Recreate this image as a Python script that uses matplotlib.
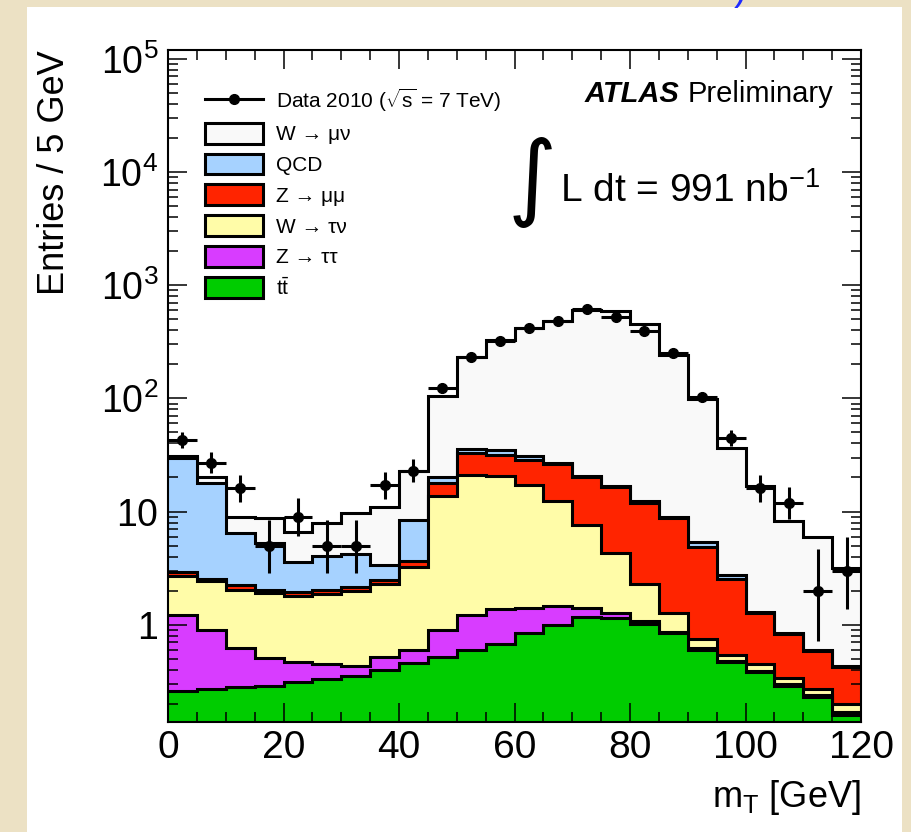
import numpy as np
import matplotlib
matplotlib.use('Agg')
import matplotlib.pyplot as plt
from matplotlib import font_manager
from matplotlib.lines import Line2D
from matplotlib.patches import Patch, Rectangle
from matplotlib.ticker import MultipleLocator, LogLocator, FuncFormatter, NullFormatter

# m_T binning, 5 GeV per bin
bin_edges = np.arange(0, 125, 5)

# observed events per bin
data_2010 = np.array([43, 27, 16, 5, 9, 5, 5, 17, 23, 123, 233, 322,
                      420, 483, 620, 525, 394, 250, 103, 45, 16, 12, 2, 3])

# MC / data-driven expectations per bin (stacked bottom -> top)
ttbar = [0.26, 0.27, 0.28, 0.29, 0.31, 0.33, 0.35, 0.40, 0.46, 0.52, 0.60, 0.68,
         0.84, 1.00, 1.18, 1.15, 1.02, 0.85, 0.60, 0.47, 0.38, 0.29, 0.23, 0.16]
z_tautau = [0.97, 0.63, 0.34, 0.22, 0.16, 0.12, 0.08, 0.12, 0.14, 0.38, 0.63, 0.70,
            0.56, 0.45, 0.22, 0.12, 0.05, 0.02, 0.02, 0.01, 0.01, 0.01, 0.01, 0.01]
w_taunu = [1.47, 1.52, 1.39, 1.40, 1.31, 1.42, 1.54, 1.77, 2.62, 12.9, 20.0, 19.4,
           15.9, 10.85, 6.27, 3.04, 1.23, 0.40, 0.13, 0.06, 0.06, 0.04, 0.03, 0.03]
z_mumu = [0.20, 0.13, 0.25, 0.13, 0.17, 0.17, 0.17, 0.21, 0.46, 4.1, 11.8, 11.1,
          11.5, 13.8, 12.6, 12.2, 9.7, 7.5, 4.15, 1.97, 0.81, 0.49, 0.32, 0.22]
qcd = [27.0, 15.4, 4.2, 3.2, 1.6, 2.0, 2.1, 0.85, 4.7, 2.5, 2.8, 3.1,
       2.2, 0.9, 0.3, 0.3, 0.3, 0.15, 0.5, 0.25, 0.03, 0.01, 0.01, 0.01]
w_munu = [1.1, 2.3, 2.5, 3.5, 3.1, 3.9, 5.45, 7.65, 14.6, 85.6, 196, 291,
          392, 456, 583, 576, 443, 231, 92.6, 33.9, 15.4, 7.4, 5.3, 2.75]

samples = [ttbar, z_tautau, w_taunu, z_mumu, qcd, w_munu]
labels = [r'$\mathregular{t\bar{t}}$', 'Z → ττ', 'W → τν', 'Z → μμ', 'QCD', 'W → μν']
colors = ['#00CC00', '#D83CFF', '#FFFCA8', '#FF2400', '#A6D2FF', '#F9F9F9']

# font setup
available = {f.name for f in font_manager.fontManager.ttflist}
narrow = 'Liberation Sans Narrow' if 'Liberation Sans Narrow' in available else 'Liberation Sans'
plt.rcParams['font.family'] = ['Liberation Sans', 'DejaVu Sans']
plt.rcParams['mathtext.fontset'] = 'custom'
plt.rcParams['mathtext.rm'] = 'Liberation Sans'
plt.rcParams['mathtext.it'] = 'Liberation Sans:italic'
plt.rcParams['mathtext.bf'] = 'Liberation Sans:bold'

fig = plt.figure(figsize=(9.11, 8.32), dpi=100, facecolor='#ECE1C4')
# white slide panel behind the plot
fig.patches.append(Rectangle((27 / 911, 0), 875 / 911, 825 / 832, transform=fig.transFigure,
                             facecolor='white', edgecolor='none', zorder=-10))
fig.text(0.813, 1.012, ')', color='#1E2BFF', fontsize=28, ha='center', va='center')

ax = fig.add_axes([168 / 911, 110 / 832, 693 / 911, 672 / 832])
ax.set_zorder(1)
ax.set_facecolor('white')
ax.set_yscale('log')

# stacked histograms, drawn from the top of the stack down (ROOT THStack style)
cum = np.cumsum(np.array(samples), axis=0)
for i in reversed(range(len(samples))):
    ax.stairs(cum[i], bin_edges, baseline=1e-3, fill=True, facecolor=colors[i], linewidth=0)
    ax.stairs(cum[i], bin_edges, baseline=None, color='black', linewidth=2.2)

# data with Poisson (Garwood-like) intervals
centers = 0.5 * (bin_edges[:-1] + bin_edges[1:])
n = data_2010.astype(float)
err_lo = n - n * (1 - 1 / (9 * n) - 1 / (3 * np.sqrt(n))) ** 3
err_hi = (n + 1) * (1 - 1 / (9 * (n + 1)) + 1 / (3 * np.sqrt(n + 1))) ** 3 - n
ax.errorbar(centers, n, xerr=2.5, yerr=[err_lo, err_hi], fmt='o', color='black',
            ms=7, elinewidth=2.2, capsize=0, zorder=5)

ax.set_xlim(0, 120)
ax.set_ylim(0.138, 1.2e5)
ax.set_axisbelow(False)

ax.xaxis.set_major_locator(MultipleLocator(20))
ax.xaxis.set_minor_locator(MultipleLocator(5))
ax.yaxis.set_major_locator(LogLocator(base=10, numticks=20))
ax.yaxis.set_minor_locator(LogLocator(base=10, subs=np.arange(2, 10), numticks=20))


def ylab(v, pos):
    if v < 0.5:
        return ''
    if v < 50:
        return r'$\mathregular{%d}$' % round(v)
    return r'$\mathregular{10^{%d}}$' % round(np.log10(v))


ax.yaxis.set_major_formatter(FuncFormatter(ylab))
ax.yaxis.set_minor_formatter(NullFormatter())
ax.tick_params(which='both', direction='in', top=True, right=True, width=1.1, color='black')
ax.tick_params(which='major', length=14)
ax.tick_params(which='minor', length=7)
ax.tick_params(axis='x', labelsize=28, pad=6, labelfontfamily=narrow)
ax.tick_params(axis='y', labelsize=27, pad=7, labelfontfamily=narrow)
for sp in ax.spines.values():
    sp.set_linewidth(1.5)

ax.set_ylabel('Entries / 5 GeV', loc='top', fontsize=26)
ax.yaxis.set_label_coords(-0.1385, 1.0)
ax.set_xlabel(r'm$_{\mathregular{T}}$ [GeV]', loc='right', fontsize=26)
ax.xaxis.set_label_coords(1.0, -0.083)

# legend
handles = [Line2D([0], [0], color='black', lw=2.2, marker='o', ms=7)]
leg_labels = [r'Data 2010 ($\sqrt{\mathregular{s}}$ = 7 TeV)']
for i in reversed(range(len(samples))):
    handles.append(Patch(facecolor=colors[i], edgecolor='black', linewidth=2.2))
    leg_labels.append(labels[i])
ax.legend(handles, leg_labels, loc='upper left', bbox_to_anchor=(0.053, 0.946),
          frameon=False, fontsize=15, borderpad=0, borderaxespad=0,
          handlelength=2.8, handleheight=1.15, labelspacing=0.45, handletextpad=0.6)

# ATLAS label and luminosity
prelim = ax.text(0.96, 0.913, 'Preliminary', transform=ax.transAxes,
                 ha='right', va='bottom', fontsize=21)
ax.annotate('ATLAS', xy=(0, 0), xycoords=prelim, xytext=(-6, 0), textcoords='offset points',
            ha='right', va='bottom', fontsize=21, fontweight='bold', fontstyle='italic')
ax.text(0.526, 0.803, '∫', transform=ax.transAxes, ha='center', va='center',
        fontsize=68, family='DejaVu Sans')
ax.text(0.566, 0.774, r'L dt = 991 nb$^{\mathregular{-1}}$', transform=ax.transAxes,
        ha='left', va='baseline', fontsize=28)

fig.savefig('out.png', dpi=100, facecolor=fig.get_facecolor())
